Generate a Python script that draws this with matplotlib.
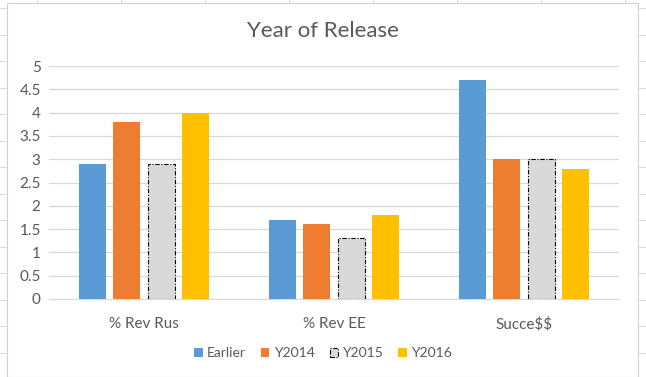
import numpy as np
import matplotlib.pyplot as plt
from matplotlib.lines import Line2D
from matplotlib.patches import Rectangle

categories = ["% Rev Rus", "% Rev EE", "Succe$$"]
series_names = ["Earlier", "Y2014", "Y2015", "Y2016"]
earlier = [2.9, 1.7, 4.7]
y2014 = [3.8, 1.6, 3.0]
y2015 = [2.9, 1.3, 3.0]
y2016 = [4.0, 1.8, 2.8]
y_ticks = [0, 0.5, 1, 1.5, 2, 2.5, 3, 3.5, 4, 4.5, 5]
y_tick_labels = ["0", "0.5", "1", "1.5", "2", "2.5", "3", "3.5", "4", "4.5", "5"]

plt.rcParams['font.family'] = ['Lato', 'DejaVu Sans']
plt.rcParams['text.parse_math'] = False
text_color = "#595959"
grid_color = "#d9d9d9"

fig = plt.figure(figsize=(6.46, 3.77), dpi=100)
W, H = 646, 377

# spreadsheet cells behind the chart
for y in np.arange(8, H, 26.5):
    fig.add_artist(Line2D([0, 7 / W], [1 - y / H, 1 - y / H], color="#dcdcdc", lw=0.8))
    fig.add_artist(Line2D([638 / W, 1], [1 - y / H, 1 - y / H], color="#dcdcdc", lw=0.8))
for x in np.arange(37, W, 84):
    fig.add_artist(Line2D([x / W, x / W], [1 - 3 / H, 1], color="#dcdcdc", lw=0.8))
# chart area border
fig.add_artist(Rectangle((7 / W, 0), (638 - 7) / W, 1 - 3 / H, fill=False,
                         edgecolor="#d0d0d0", lw=0.8))

ax = fig.add_axes([49 / W, 1 - 299 / H, (619 - 49) / W, (299 - 66) / H])

x = np.arange(len(categories))
bw = 0.143
step = 0.18
offsets = (np.arange(4) - 1.5) * step

ax.bar(x + offsets[0], earlier, bw, color="#5B9BD5", label="Earlier", zorder=3)
ax.bar(x + offsets[1], y2014, bw, color="#ED7D31", label="Y2014", zorder=3)
ax.bar(x + offsets[2], y2015, bw, color="#D9D9D9", edgecolor="black",
       linestyle=(0, (4, 1.5, 1, 1.5)), linewidth=0.8, label="Y2015", zorder=3)
ax.bar(x + offsets[3], y2016, bw, color="#FFC000", label="Y2016", zorder=3)

ax.set_xlim(-0.5, 2.5)
ax.set_ylim(0, 5)
ax.set_yticks(y_ticks)
ax.set_yticklabels(y_tick_labels)
ax.set_xticks(x)
ax.set_xticklabels(categories)
ax.tick_params(axis="both", length=0, labelsize=11, colors=text_color)
ax.tick_params(axis="y", pad=6)
ax.tick_params(axis="x", pad=13)
ax.grid(axis="y", color=grid_color, linewidth=0.9, zorder=0)
for s in ["top", "right", "left"]:
    ax.spines[s].set_visible(False)
ax.spines["bottom"].set_color(grid_color)

fig.text(0.5, 1 - 31 / H, "Year of Release", ha="center", va="center",
         fontsize=16, color=text_color)

fig.legend(loc="center", bbox_to_anchor=(0.5, 1 - 353 / H), ncol=4,
           frameon=False, fontsize=10, labelcolor=text_color,
           handlelength=0.6, handleheight=0.6, handletextpad=0.3, columnspacing=1.1)

fig.savefig("out.png", dpi=100)
plt.close(fig)
